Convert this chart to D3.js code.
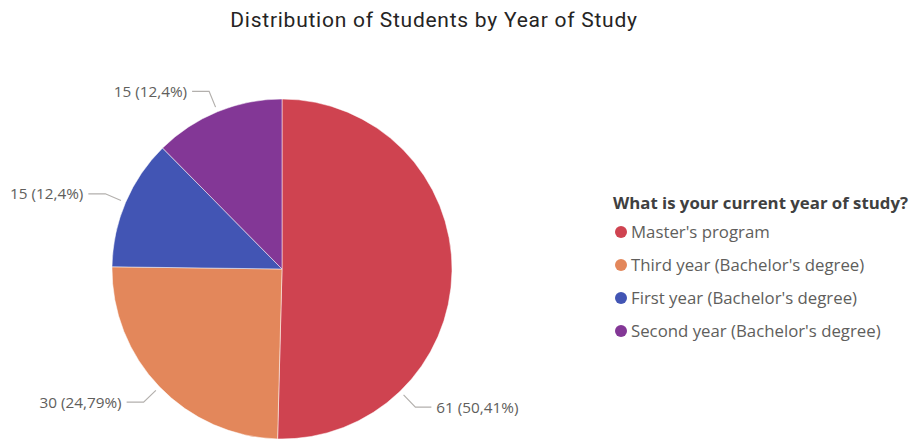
<!DOCTYPE html>
<html>
<head>
<meta charset="utf-8">
<script src="https://cdn.jsdelivr.net/npm/d3@7"></script>
<style>
  body { margin: 0; background: #fff; }
  svg { display: block; }
</style>
</head>
<body>
<svg id="chart" width="911" height="439"></svg>
<script>
const categories = ["Master's program", "Third year (Bachelor's degree)", "First year (Bachelor's degree)", "Second year (Bachelor's degree)"];
const values = [61, 30, 15, 15];
const percentLabels = ["50,41%", "24,79%", "12,4%", "12,4%"];
const colors = ["#CF4350", "#E3875B", "#4255B4", "#833796"];
const chartTitle = "Distribution of Students by Year of Study";
const legendTitle = "What is your current year of study?";

const svg = d3.select("#chart");
const cx = 282, cy = 269, R = 170;

svg.append("text")
  .attr("x", 434).attr("y", 27)
  .attr("text-anchor", "middle")
  .attr("font-family", "Roboto, 'DejaVu Sans Condensed', sans-serif")
  .attr("font-size", 21)
  .attr("letter-spacing", 0.75)
  .attr("fill", "#252423")
  .text(chartTitle);

const pie = d3.pie().sort(null).value(d => d);
const arcs = pie(values);
const arcGen = d3.arc().innerRadius(0).outerRadius(R);

const g = svg.append("g").attr("transform", `translate(${cx},${cy})`);
g.selectAll("path.slice").data(arcs).enter().append("path")
  .attr("class", "slice")
  .attr("d", arcGen)
  .attr("fill", (d, i) => colors[i])
  .attr("stroke", "#fff").attr("stroke-width", 0.5);

// leader anchor angles (layout): middle of slice, except first which is pushed down like the reference
const anchorAngle = arcs.map((a, i) => i === 0 ? (136 * Math.PI / 180) : (a.startAngle + a.endAngle) / 2);
const labelG = g.append("g");
arcs.forEach((a, i) => {
  const ang = anchorAngle[i];
  const r1 = 175, r2 = 192;
  const x1 = r1 * Math.sin(ang), y1 = -r1 * Math.cos(ang);
  const x2 = r2 * Math.sin(ang), y2 = -r2 * Math.cos(ang);
  const right = Math.sin(ang) > 0;
  const x3 = x2 + (right ? 16 : -17);
  labelG.append("polyline")
    .attr("points", [[x1, y1], [x2, y2], [x3, y2]].map(p => p.join(",")).join(" "))
    .attr("fill", "none").attr("stroke", "#B3B0AD").attr("stroke-width", 1.2);
  labelG.append("text")
    .attr("x", x3 + (right ? 5 : -5))
    .attr("y", y2 + 5.5)
    .attr("text-anchor", right ? "start" : "end")
    .attr("font-family", "'Open Sans', 'Noto Sans', sans-serif")
    .attr("font-size", 15.3)
    .attr("fill", "#605E5C")
    .text(`${values[i]} (${percentLabels[i]})`);
});

// legend
const lg = svg.append("g").attr("transform", "translate(613,0)");
lg.append("text")
  .attr("x", 0).attr("y", 209)
  .attr("font-family", "'Open Sans', 'Noto Sans', sans-serif")
  .attr("font-size", 16.8).attr("font-weight", "bold")
  .attr("fill", "#404040")
  .text(legendTitle);
const items = lg.selectAll("g.item").data(categories).enter().append("g")
  .attr("class", "item")
  .attr("transform", (d, i) => `translate(0,${232 + i * 33})`);
items.append("circle").attr("cx", 8).attr("cy", 0).attr("r", 6)
  .attr("fill", (d, i) => colors[i]);
items.append("text").attr("x", 18).attr("y", 6)
  .attr("font-family", "'Open Sans', 'Noto Sans', sans-serif")
  .attr("font-size", 16.8)
  .attr("fill", "#605E5C")
  .text(d => d);
</script>
</body>
</html>
